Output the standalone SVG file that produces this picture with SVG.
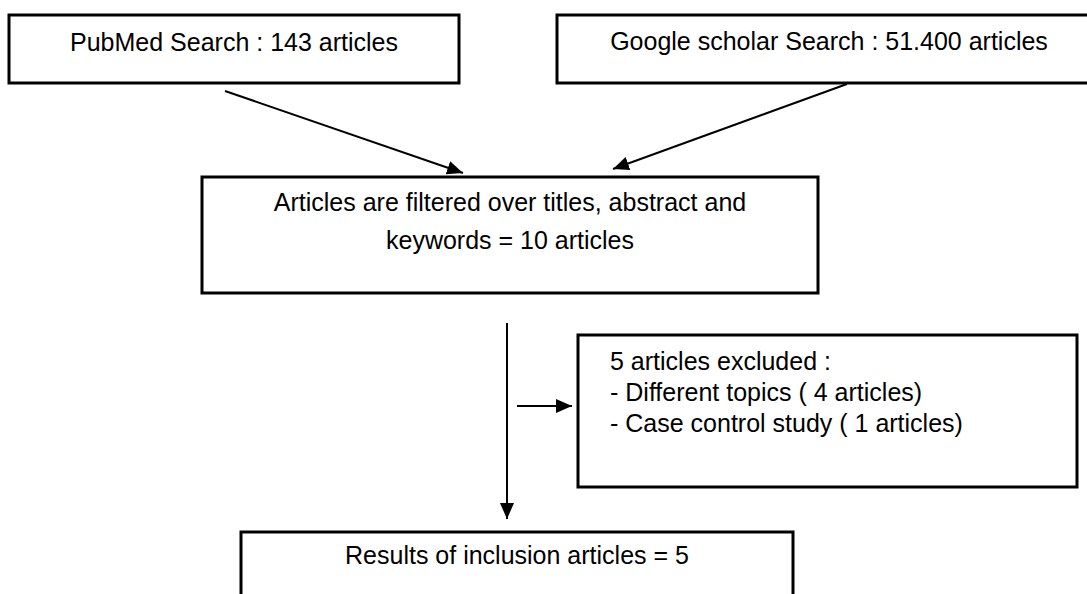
<svg xmlns="http://www.w3.org/2000/svg" width="1087" height="594" viewBox="0 0 1087 594">
<style>
.box{fill:#fff;stroke:#000;stroke-width:3}
.t{font-family:"Liberation Sans",Arial,sans-serif;font-size:25px;fill:#000}
.c{text-anchor:middle}
.ln{stroke:#000;stroke-width:2;fill:none}
</style>
<defs>
<marker id="ah" markerUnits="userSpaceOnUse" markerWidth="18" markerHeight="14" refX="16" refY="7" orient="auto">
<path d="M0,0 L16,7 L0,14 Z" fill="#000"/>
</marker>
</defs>
<rect width="1087" height="594" fill="#fff"/>
<g id="connectors">
<line class="ln" x1="225" y1="91" x2="463" y2="173" marker-end="url(#ah)"/>
<line class="ln" x1="847" y1="84" x2="613" y2="169" marker-end="url(#ah)"/>
<line class="ln" x1="507" y1="323" x2="507" y2="519" marker-end="url(#ah)"/>
<line class="ln" x1="517" y1="406" x2="572" y2="406" marker-end="url(#ah)"/>
</g>
<g id="pubmed">
<rect class="box" x="9" y="15" width="450" height="68"/>
<text class="t c" x="234" y="51">PubMed Search : 143 articles</text>
</g>
<g id="scholar">
<rect class="box" x="557" y="15" width="544" height="68"/>
<text class="t c" x="829" y="50">Google scholar Search : 51.400 articles</text>
</g>
<g id="filtered">
<rect class="box" x="202" y="177" width="616" height="116"/>
<text class="t c" x="510" y="211">Articles are filtered over titles, abstract and</text>
<text class="t c" x="510" y="249">keywords = 10 articles</text>
</g>
<g id="excluded">
<rect class="box" x="578" y="335" width="499" height="152"/>
<text class="t" x="610" y="370">5 articles excluded :</text>
<text class="t" x="610" y="401">- Different topics ( 4 articles)</text>
<text class="t" x="610" y="432">- Case control study ( 1 articles)</text>
</g>
<g id="results">
<rect class="box" x="241" y="532" width="552" height="80"/>
<text class="t c" x="517" y="564">Results of inclusion articles = 5</text>
</g>
</svg>
